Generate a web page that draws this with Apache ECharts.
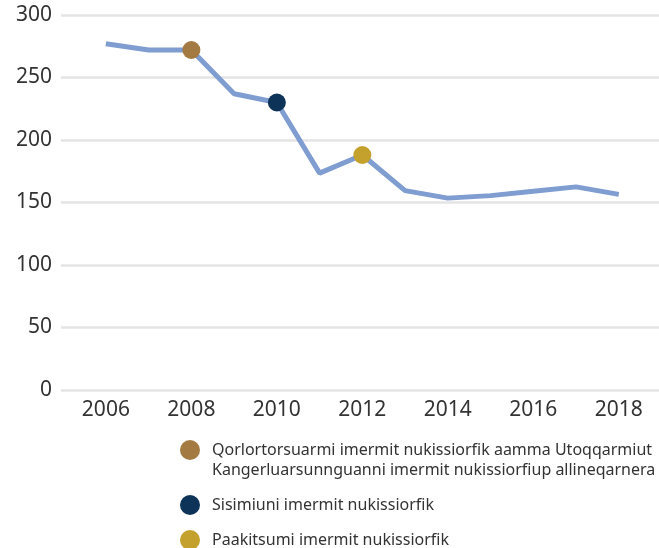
<!DOCTYPE html>
<html>
<head>
<meta charset="utf-8">
<style>html,body{margin:0;padding:0;background:#fff;}#c{width:659px;height:548px;}</style>
<script src="https://cdn.jsdelivr.net/npm/echarts@6/dist/echarts.min.js"></script>
</head>
<body>
<div id="c"></div>
<script>
const years = [2006, 2007, 2008, 2009, 2010, 2011, 2012, 2013, 2014, 2015, 2016, 2017, 2018];
const values = [277, 272, 272, 237, 230, 173.5, 188, 159.5, 153.5, 155.5, 159, 162.5, 156.5];
const xTickLabels = [2006, 2008, 2010, 2012, 2014, 2016, 2018];
const markerNames = [
  'Qorlortorsuarmi imermit nukissiorfik aamma Utoqqarmiut\nKangerluarsunnguanni imermit nukissiorfiup allineqarnera',
  'Sisimiuni imermit nukissiorfik',
  'Paakitsumi imermit nukissiorfik'
];
const markerYears = [2008, 2010, 2012];
const markerValues = [272, 230, 188];

const markerColors = ['#a27a42', '#0e3358', '#c4a12d'];
const fontFam = '"Noto Sans", sans-serif';

const chart = echarts.init(document.getElementById('c'));
const lineData = years.map((y, i) => [y, values[i]]);
const scatterSeries = markerNames.map((n, i) => ({
  name: n,
  type: 'scatter',
  symbol: 'circle',
  symbolSize: 18,
  itemStyle: { color: markerColors[i], opacity: 1 },
  data: [[markerYears[i], markerValues[i]]],
  z: 5
}));

chart.setOption({
  animation: false,
  backgroundColor: '#fff',
  grid: { left: 61, right: 0, top: 15, bottom: 158 },
  xAxis: {
    type: 'value',
    min: 2004.95,
    max: 2018.94,
    axisLine: { show: false },
    axisTick: { show: false },
    splitLine: { show: false },
    axisLabel: {
      customValues: xTickLabels,
      color: '#333',
      fontSize: 21,
      fontFamily: fontFam,
      margin: 10,
      formatter: v => String(v)
    }
  },
  yAxis: {
    type: 'value',
    min: 0,
    max: 300,
    interval: 50,
    axisLine: { show: false },
    axisTick: { show: false },
    splitLine: { lineStyle: { color: '#e4e4e4', width: 2.5 } },
    axisLabel: { color: '#333', fontSize: 21, fontFamily: fontFam, margin: 9 }
  },
  legend: {
    orient: 'vertical',
    left: 180,
    top: 420,
    padding: 0,
    itemWidth: 20,
    itemHeight: 20,
    itemGap: 15,
    icon: 'circle',
    selectedMode: false,
    formatter: name => (name.indexOf('\n') >= 0 ? '\n' + name : name),
    textStyle: { color: '#333', fontSize: 16, fontFamily: fontFam, lineHeight: 20, padding: [0, 0, 0, 7] },
    data: markerNames
  },
  series: [
    {
      name: 'line',
      type: 'line',
      data: lineData,
      showSymbol: false,
      symbol: 'none',
      lineStyle: { color: '#7f9dd0', width: 5 },
      itemStyle: { color: '#7f9dd0' },
      z: 2
    }
  ].concat(scatterSeries)
});
</script>
</body>
</html>
